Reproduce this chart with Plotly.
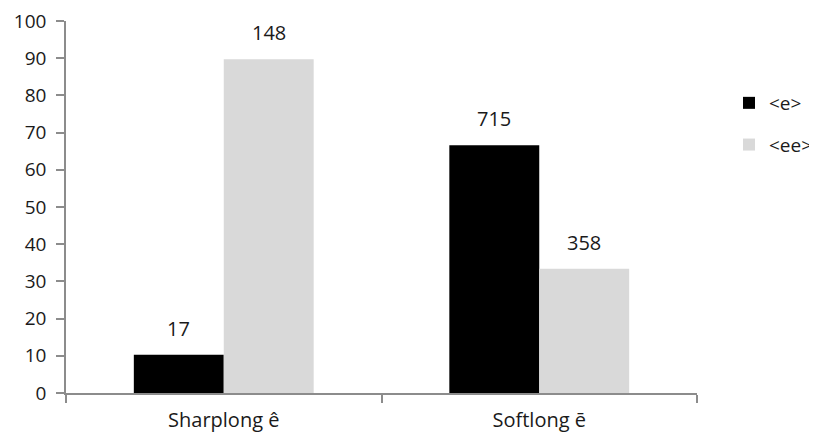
import plotly.graph_objects as go

categories = ["Sharplong ê", "Softlong ē"]
series_names = ["<e>", "<ee>"]
pct_e = [10.3, 66.6]
pct_ee = [89.7, 33.4]
count_e = [17, 715]
count_ee = [148, 358]
y_ticks = list(range(0, 101, 10))

FONT = "'Open Sans', Lato, sans-serif"
TXT = "#1a1a1a"
AX = "#8c8c8c"

W, H = 809, 426

fig = go.Figure()
fig.add_trace(go.Bar(name=series_names[0], x=categories, y=pct_e,
                     marker=dict(color="#000000", line=dict(width=0)),
                     legendgroup="a"))
fig.add_trace(go.Bar(name=series_names[1], x=categories, y=pct_ee,
                     marker=dict(color="#d9d9d9", line=dict(width=0)),
                     legendgroup="b"))

annotations = []
for cat, v, c in zip(categories, pct_e, count_e):
    annotations.append(dict(x=cat, y=v, xref="x", yref="y", text=str(c),
                            showarrow=False, xshift=-45, yshift=11, yanchor="bottom",
                            font=dict(family=FONT, size=20, color=TXT)))
for cat, v, c in zip(categories, pct_ee, count_ee):
    annotations.append(dict(x=cat, y=v, xref="x", yref="y", text=str(c),
                            showarrow=False, xshift=45, yshift=11, yanchor="bottom",
                            font=dict(family=FONT, size=20, color=TXT)))

fig.update_layout(
    width=W, height=H,
    margin=dict(l=58, r=120, t=13, b=41, autoexpand=False),
    paper_bgcolor="white", plot_bgcolor="white",
    barmode="group", bargap=0.43, bargroupgap=0,
    font=dict(family=FONT, size=20, color=TXT),
    annotations=annotations,
    legend=dict(x=721/W, xref="container", xanchor="left",
                y=1-76/H, yref="container", yanchor="top",
                font=dict(family=FONT, size=19, color=TXT),
                tracegroupgap=14, bgcolor="rgba(0,0,0,0)"),
    xaxis=dict(showline=True, linecolor=AX, linewidth=1.5, ticks="outside",
               tickson="boundaries", ticklen=8, tickcolor=AX, tickwidth=1.5,
               showgrid=False, automargin=False, ticklabelstandoff=8,
               ticklabeloverflow="allow",
               tickfont=dict(family=FONT, size=20, color=TXT)),
    yaxis=dict(range=[0, 100], tickvals=y_ticks, showline=True, linecolor=AX,
               linewidth=1.5, ticks="outside", ticklen=8, tickcolor=AX, tickwidth=1.5,
               showgrid=False, zeroline=False, automargin=False, ticklabelstandoff=6,
               ticklabeloverflow="allow",
               tickfont=dict(family=FONT, size=19, color=TXT)),
)

fig.write_html("out.html")
